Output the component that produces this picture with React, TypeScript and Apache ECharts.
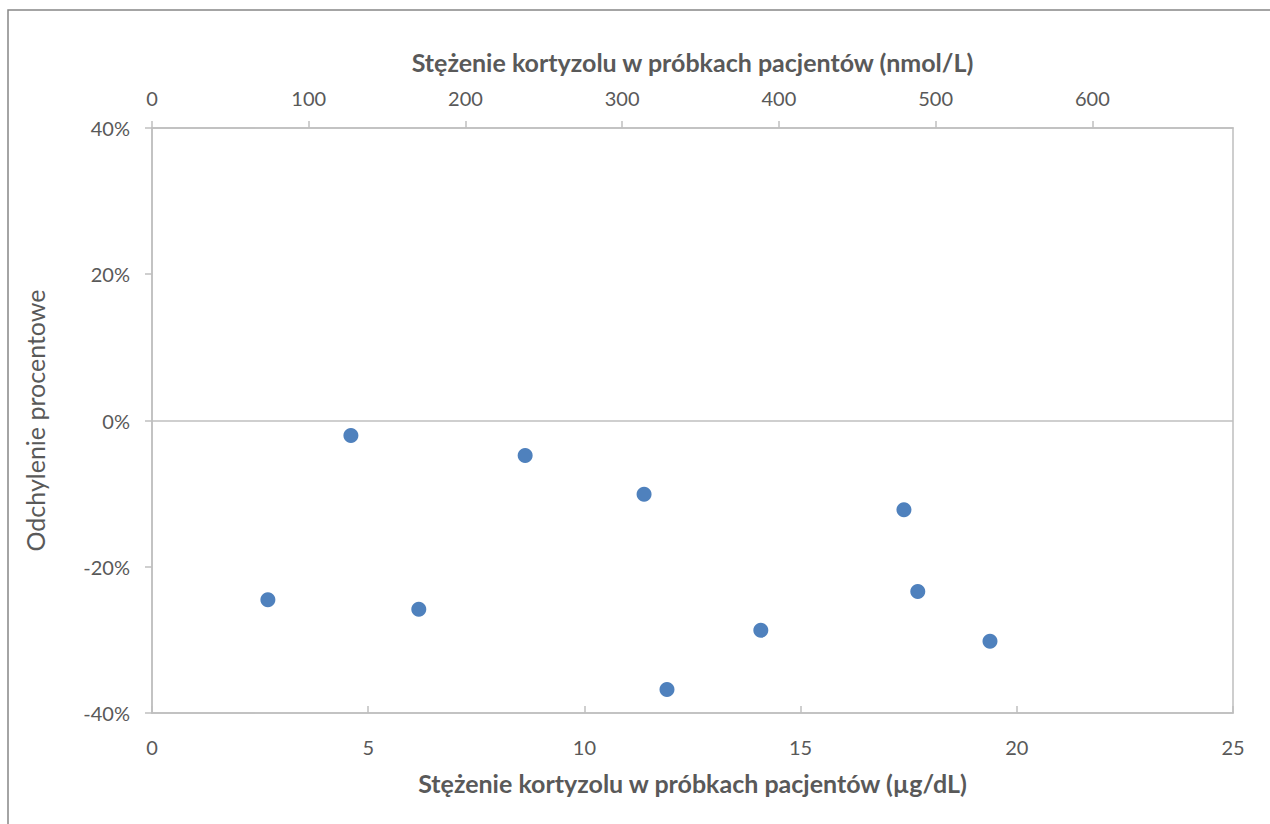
import React, { useEffect, useRef } from "react";
import * as echarts from "echarts";

const xValues = [2.68, 4.6, 6.17, 8.63, 11.38, 11.91, 14.08, 17.39, 17.71, 19.38];
const yValues = [-0.245, -0.0205, -0.258, -0.048, -0.101, -0.368, -0.287, -0.122, -0.234, -0.302];
const bottomTitle = "Stężenie kortyzolu w próbkach pacjentów (µg/dL)";
const topTitle = "Stężenie kortyzolu w próbkach pacjentów (nmol/L)";
const yTitle = "Odchylenie procentowe";
const conversion = 27.59;

const FONT = "Lato, 'Open Sans', sans-serif";
const LABEL = "#595959";
const AXIS = "#BFBFBF";

export default function App() {
  const ref = useRef<HTMLDivElement>(null);
  useEffect(() => {
    const chart = echarts.init(ref.current!, null, { renderer: "svg" });
    chart.setOption({
      animation: false,
      backgroundColor: "#ffffff",
      textStyle: { fontFamily: FONT },
      graphic: [
        {
          type: "rect",
          shape: { x: 8, y: 10, width: 1300, height: 900 },
          style: { fill: "none", stroke: "#878787", lineWidth: 1.5 },
          silent: true,
          z: -1,
        },
      ],
      grid: { left: 152, top: 128, right: 37, bottom: 111, show: true, borderColor: AXIS, borderWidth: 1.5 },
      xAxis: [
        {
          type: "value",
          position: "bottom",
          min: 0,
          max: 25,
          interval: 5,
          name: bottomTitle,
          nameLocation: "middle",
          nameGap: 57,
          nameTextStyle: { fontSize: 25, fontWeight: "bold", color: LABEL, fontFamily: FONT },
          axisLine: { show: true, onZero: false, lineStyle: { color: AXIS, width: 1.5 } },
          axisTick: { show: true, inside: true, length: 7, lineStyle: { color: AXIS, width: 1.5 } },
          axisLabel: { color: LABEL, fontSize: 20, margin: 24, fontFamily: FONT },
          splitLine: { show: false },
        },
        {
          type: "value",
          position: "top",
          min: 0,
          max: 25 * conversion,
          interval: 100,
          name: topTitle,
          nameLocation: "middle",
          nameGap: 54,
          nameTextStyle: { fontSize: 25, fontWeight: "bold", color: LABEL, fontFamily: FONT },
          axisLine: { show: true, onZero: false, lineStyle: { color: AXIS, width: 1.5 } },
          axisTick: { show: true, inside: false, length: 7, lineStyle: { color: AXIS, width: 1.5 } },
          axisLabel: { color: LABEL, fontSize: 20, margin: 20, fontFamily: FONT, showMaxLabel: false },
          splitLine: { show: false },
        },
      ],
      yAxis: {
        type: "value",
        min: -0.4,
        max: 0.4,
        interval: 0.2,
        name: yTitle,
        nameLocation: "middle",
        nameGap: 105,
        nameRotate: 90,
        nameTextStyle: { fontSize: 25, color: LABEL, fontFamily: FONT },
        axisLine: { show: true, lineStyle: { color: AXIS, width: 1.5 } },
        axisTick: { show: true, inside: false, length: 7, lineStyle: { color: AXIS, width: 1.5 } },
        axisLabel: {
          color: LABEL,
          fontSize: 20,
          margin: 22,
          fontFamily: FONT,
          formatter: (v: number) => `${Math.round(v * 100)}%`,
        },
        splitLine: { show: false },
      },
      series: [
        {
          type: "scatter",
          xAxisIndex: 0,
          data: xValues.map((x, i) => [x, yValues[i]]),
          symbol: "circle",
          symbolSize: 15,
          itemStyle: { color: "#4F81BD", opacity: 1 },
          markLine: {
            silent: true,
            symbol: "none",
            label: { show: false },
            lineStyle: { color: AXIS, width: 1.5, type: "solid" },
            data: [{ yAxis: 0 }],
          },
        },
      ],
    });
    return () => chart.dispose();
  }, []);
  return <div ref={ref} style={{ position: "absolute", left: 0, top: 0, width: 1270, height: 824 }} />;
}
